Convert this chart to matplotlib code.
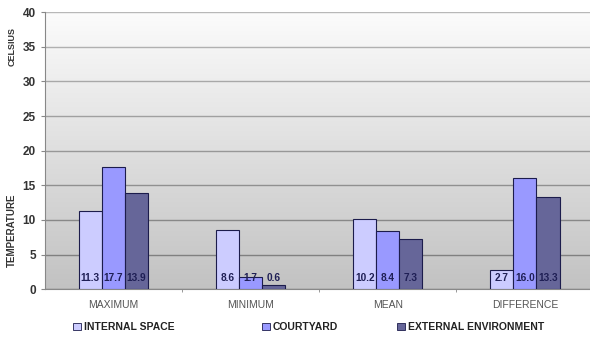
import matplotlib.pyplot as plt
import numpy as np
from matplotlib.patches import Patch
from matplotlib.colors import LinearSegmentedColormap

plt.rcParams['font.family'] = ['Liberation Sans', 'DejaVu Sans']

categories = ['MAXIMUM', 'MINIMUM', 'MEAN', 'DIFFERENCE']
series_names = ['INTERNAL SPACE', 'COURTYARD', 'EXTERNAL ENVIRONMENT']
internal_space = [11.3, 8.6, 10.2, 2.7]
courtyard = [17.7, 1.7, 8.4, 16.0]
external_env = [13.9, 0.6, 7.3, 13.3]

colors = ['#ccccff', '#9999ff', '#666699']
edge = '#1c1c4c'

fig = plt.figure(figsize=(5.9, 3.37), dpi=100)
fig.patch.set_facecolor('white')
ax = fig.add_axes([0.076, 0.142, 0.93, 0.822])

# grey gradient behind the plot, light at the top
bg = LinearSegmentedColormap.from_list('bg', ['#c2c2c2', '#fcfcfc'])
grad = np.linspace(0, 1, 256).reshape(-1, 1)
ax.imshow(grad, extent=[-0.5, 3.5, 0, 40], aspect='auto', cmap=bg,
          origin='lower', zorder=0)

x = np.arange(len(categories))
w = 0.168
for i, (vals, c) in enumerate(zip([internal_space, courtyard, external_env], colors)):
    pos = x + (i - 1) * w
    ax.bar(pos, vals, width=w, color=c, edgecolor=edge, linewidth=0.8, zorder=3)
    for p, v in zip(pos, vals):
        ax.text(p, 1.6, f'{v:.1f}', ha='center', va='center', fontsize=7.3,
                fontweight='bold', color='#1f1f55', zorder=4)

ax.set_xlim(-0.5, 3.5)
ax.set_ylim(0, 40)
ax.set_yticks(range(0, 41, 5))
ax.yaxis.grid(True, linewidth=1.0, zorder=1)
# grid lines fade a bit towards the top
gls = ax.get_ygridlines()
for k, gl in enumerate(gls):
    shade = 0.47 + 0.25 * k / (len(gls) - 1)
    gl.set_color((shade, shade, shade))
    gl.set_zorder(1)

ax.set_xticks(x)
ax.set_xticklabels(categories, fontsize=7.5, color='#555555')
ax.set_xticks(np.arange(0.5, 3.5, 1), minor=True)
ax.tick_params(axis='x', which='major', length=0, pad=8)
ax.tick_params(axis='x', which='minor', length=2, color='#888888', direction='out')
ax.tick_params(axis='y', length=3, color='#888888', labelsize=8.5, labelcolor='#333333')
for t in ax.get_yticklabels():
    t.set_fontweight('bold')

for s in ['top', 'right']:
    ax.spines[s].set_visible(False)
ax.spines['left'].set_color('#888888')
ax.spines['bottom'].set_color('#888888')

fig.text(0.02, 1 - 230 / 337, 'TEMPERATURE', rotation=90, ha='center', va='center',
         fontsize=7, fontweight='bold', color='#333333')
fig.text(0.02, 1 - 47 / 337, 'CELSIUS', rotation=90, ha='center', va='center',
         fontsize=6.5, fontweight='bold', color='#333333')

# legend entries placed one by one along the bottom
legend_x = [68 / 590, 257 / 590, 392 / 590]
for name, c, lx in zip(series_names, colors, legend_x):
    fig.legend(handles=[Patch(facecolor=c, edgecolor=edge, linewidth=0.6, label=name)],
               loc='center left', bbox_to_anchor=(lx, 1 - 327 / 337), frameon=False,
               handlelength=0.7, handleheight=0.7, handletextpad=0.3, borderpad=0,
               prop={'size': 7.5, 'weight': 'bold'}, labelcolor='#222222')

fig.savefig('out.png', dpi=100)
